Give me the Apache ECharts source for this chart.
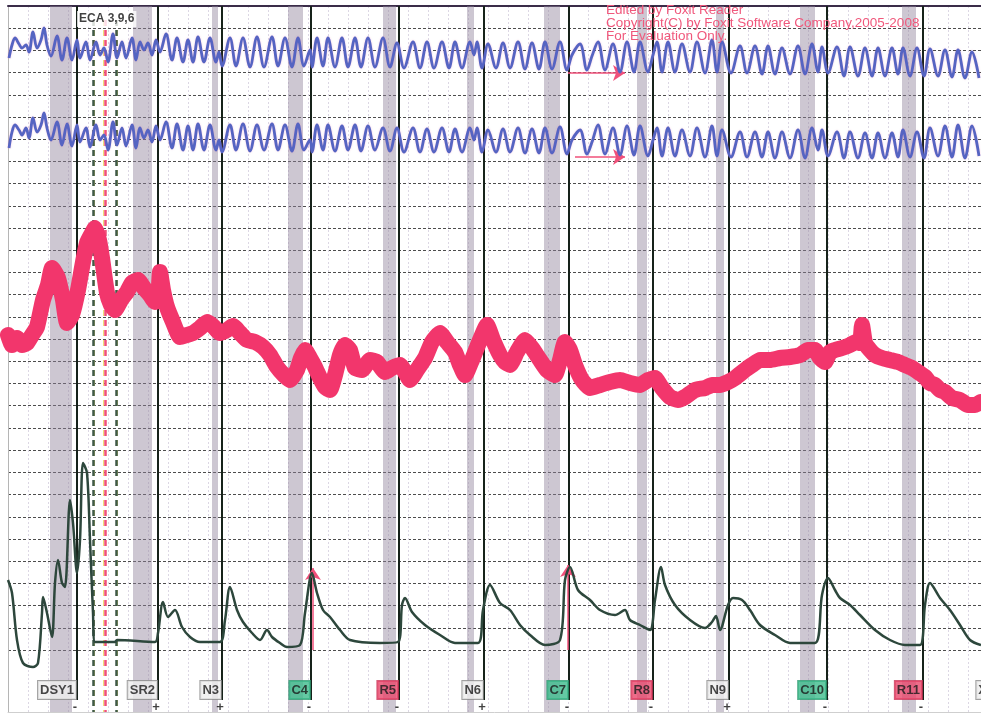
<!DOCTYPE html>
<html><head><meta charset="utf-8">
<script src="https://cdn.jsdelivr.net/npm/echarts@6/dist/echarts.min.js"></script>
<style>html,body{margin:0;padding:0;background:#fff}#c{width:981px;height:715px}</style>
</head><body><div id="c"></div><script>
// ---- data (chart units: time across, trace level down) ----
const breathTime = [9,12,15,19,22,26,29,33,37,41, 44,47,51,57,62,67,72,77,80,86, 90,96,100,104,108,113,117,122,126,132,
 136,140,144,148,152,156,160,166,172,177, 183,188,193,198,204,210,216,219,222,230, 236,243,250,257,264,272,278,285,292,298,
 304,310,312,317,323,328,335,342,348,355, 361,368,375,383,390,397,404,413,420,427, 434,442,449,455,462,470,474,477,482,488,
 496,503,510,518,525,532,539,545,552,560, 567,572,580,587,592,598,605,613,620,627, 634,640,648,653,657,662,668,675,682,690,
 697,705,712,717,722,731,740,747,755,762, 768,775,782,790,798,805,812,818,822,828, 837,844,850,858,865,872,878,885,892,898,
 903,910,917,924,930,938,945,952,958,965, 972,979];
const upperPneumo = [58,45,38,44,48,45,52,32,48,40, 28,45,56,36,60,38,60,40,58,42, 60,42,55,48,62,34,58,42,58,38,
 60,42,50,43,55,40,52,34,60,38, 62,40,62,37,62,38,62,52,66,38, 66,38,67,37,67,37,66,38,67,38,
 66,50,67,38,66,38,67,38,67,38, 67,38,67,38,67,43,68,42,68,42, 68,42,68,42,68,42,55,42,68,44,
 68,43,68,42,69,43,69,42,69,42, 70,55,44,70,56,42,70,44,72,42, 72,42,72,55,42,72,42,72,44,72,
 42,73,40,72,42,73,46,73,46,74, 46,74,48,74,46,74,44,72,47,73, 47,76,47,76,48,76,48,76,48,74,
 48,76,48,76,49,76,50,77,50,78, 52,78];
const lowerPneumo = [148,132,125,130,135,128,138,118,132,125, 113,128,140,122,145,124,146,125,142,128, 147,125,140,135,150,122,145,128,146,125,
 148,128,138,130,142,126,140,122,148,124, 150,126,150,124,150,125,150,140,152,125, 150,124,151,125,150,124,150,125,151,124,
 150,140,152,125,150,125,151,126,150,125, 151,126,150,128,151,128,152,128,152,129, 152,128,152,129,152,128,140,128,152,130,
 152,129,152,128,153,129,153,128,153,127, 154,140,130,154,142,125,154,128,155,126, 155,126,156,140,128,156,128,156,130,156,
 128,157,126,156,130,157,132,157,132,157, 132,158,132,158,130,158,128,150,130,156, 132,158,132,158,133,158,133,158,133,157,
 130,157,132,158,128,156,126,157,125,158, 126,156];

const cardioTime = [8,12,17,22,27,32,37,43,48,52, 58,63,67,72,78,83,87,91,95,99, 102,107,111,115,121,127,132,138,144,150,
 155,158,160,163,167,173,180,187,193,200, 207,213,220,227,233,240,247,255,263,270, 277,284,290,297,301,305,310,315,320,325,
 330,335,340,345,350,355,362,370,377,385, 392,400,405,410,417,425,432,440,447,455, 460,465,472,480,487,493,500,505,510,517,
 525,532,540,547,555,560,565,570,575,582, 590,600,610,620,630,640,648,655,662,670, 678,685,695,705,712,720,728,735,745,752,
 760,770,780,790,800,808,815,820,825,830, 835,842,850,856,860,862,865,870,875,882, 890,898,905,912,918,925,930,935,940,945,
 952,960,968,975,981];
const cardioLevel = [335,345,338,345,343,335,327,300,285,268, 278,300,323,315,290,262,243,235,228,240, 258,293,305,310,300,292,283,280,288,295,
 302,300,272,290,307,322,337,335,333,328, 322,326,333,330,326,333,340,342,347,355, 367,375,380,370,358,350,358,367,378,387,
 390,375,355,345,350,368,370,360,362,372, 368,365,372,380,370,358,342,333,342,352, 365,375,360,340,325,340,355,362,365,352,
 340,348,360,370,375,360,342,350,365,380, 388,385,382,380,383,385,380,378,388,397, 400,397,390,388,385,385,382,378,370,365,
 360,360,358,357,355,350,350,358,362,352, 350,348,345,342,343,325,343,350,355,358, 360,362,365,368,372,377,383,385,390,392,
 398,400,405,405,402];

const edaTime = [8,12,17,23,33,38,42,43,47,52, 55,58,62,65,70,73,77,80,83,87, 90,93,95,115,117,155,158,163,168,175,
 182,190,200,220,225,230,237,243,252,260, 267,272,280,287,300,305,312,317,323,330, 340,350,380,398,402,405,412,425,440,455,
 478,483,490,500,510,520,530,545,560,565, 570,578,590,600,615,625,630,640,650,655, 661,665,675,690,705,712,716,720,728,733,
 742,750,760,775,790,815,822,828,835,840, 850,860,875,890,905,920,925,930,940,950, 960,970,981];
const edaLevel = [580,593,640,663,667,663,613,597,613,637, 583,560,583,587,500,523,573,540,463,473, 540,613,642,642,640,642,633,602,617,610,
 627,637,642,642,620,587,610,622,633,640, 630,637,643,647,645,613,573,593,610,617, 630,640,643,642,605,598,612,625,635,643,
 643,610,585,603,610,625,635,645,640,580, 567,590,600,610,615,610,620,625,630,600, 567,585,605,620,628,622,616,630,605,598,
 600,610,625,635,643,643,595,578,590,598, 605,615,630,640,645,645,605,583,598,610, 625,640,645];

const eventTime   = [77,158,222,311,399,484,569,653,729,827,923,990];
const eventLabels = ['DSY1','SR2','N3','C4','R5','N6','C7','R8','N9','C10','R11','X'];
const eventKinds  = ['n','n','n','c','r','n','c','r','n','c','r','n'];
const eventSigns  = ['-','+','+','-','-','+','-','-','+','-','-',''];
const stimBands   = [[50,72],[133,152],[212,218],[288,303],[383,396],[467,474],[544,560],[637,647],[716,724],[800,815],[902,916]];
const ecaMarks    = [93,116];
const ecaCenter   = 105;
const ecaText     = 'ECA 3,9,6';
const arrows      = [[568,73,625,73],[575,157,625,157],[313,650,313,568],[568,650,568,565]];
const watermark   = ['Edited by Foxit Reader','Copyright(C) by Foxit Software Company,2005-2008','For Evaluation Only.'];

// ---- build ----
const zip = (a,b)=>a.map((v,i)=>[v,b[i]]);
const TOP=6, BOT=712, LBLY=690, SIGNY=707;
const kindBg = {n:'#eeeeee', c:'#3dbb8c', r:'#e8476c'};
const kindBorder = {n:'#8a8a8a', c:'#2d9a70', r:'#c93456'};

const chart = echarts.init(document.getElementById('c'), null, {renderer:'canvas'});
const hidden = {show:false};
const option = {
  animation:false,
  backgroundColor:'#ffffff',
  title:{text:watermark.join('\n'), left:606, top:4, padding:0, z:10,
    textStyle:{color:'#f0587c', fontSize:13.5, fontWeight:'normal', lineHeight:12.8, fontFamily:'Liberation Sans'}},
  grid:[
    {left:0,right:0,top:0,bottom:0},
    {left:8,right:0,top:TOP,bottom:715-BOT},
    {left:8,right:0,top:TOP,height:644}
  ],
  xAxis:[
    {gridIndex:0,type:'value',min:0,max:981,show:false},
    {gridIndex:1,type:'value',min:0,max:973,interval:20,axisLine:{show:true,lineStyle:{color:'#cfcfcf'}},axisTick:hidden,axisLabel:hidden,
      splitLine:{show:true,lineStyle:{color:'#dcd7e4',type:[2,2],width:1}}},
    {gridIndex:2,type:'value',min:0,max:1,position:'top',axisLine:{show:true,lineStyle:{color:'#3a2c48',width:2}},axisTick:hidden,axisLabel:hidden,splitLine:hidden}
  ],
  yAxis:[
    {gridIndex:0,type:'value',min:0,max:715,inverse:true,show:false},
    {gridIndex:1,type:'value',min:0,max:1,axisLine:{show:true,lineStyle:{color:'#b5b5b5'}},axisTick:hidden,axisLabel:hidden,splitLine:hidden},
    {gridIndex:2,type:'value',min:0,max:29,interval:1,inverse:true,axisLine:hidden,axisTick:hidden,axisLabel:hidden,
      splitLine:{show:true,lineStyle:{color:'#4d4d4d',type:[3,2],width:1}}}
  ],
  series:[
    {type:'line',xAxisIndex:1,yAxisIndex:1,data:[],silent:true},
    {type:'line',xAxisIndex:2,yAxisIndex:2,data:[],silent:true},
    // stimulus bands
    {type:'line',data:[[0,0]],symbol:'none',lineStyle:{opacity:0},silent:true,z:1,
      markArea:{silent:true,itemStyle:{color:'rgba(145,130,155,0.45)'},
        data:stimBands.map(b=>[{coord:[b[0],TOP]},{coord:[b[1],BOT]}])}},
    // event lines
    {type:'line',data:[[0,0]],symbol:'none',lineStyle:{opacity:0},silent:true,z:3,
      markLine:{silent:true,symbol:['none','none'],label:hidden,animation:false,
        lineStyle:{color:'#16221a',width:2,type:'solid'},
        data:eventTime.map(x=>[{coord:[x,TOP]},{coord:[x,700]}])}},
    // ECA dashed markers
    {type:'line',data:[[0,0]],symbol:'none',lineStyle:{opacity:0},silent:true,z:3,
      markLine:{silent:true,symbol:['none','none'],label:hidden,
        data:[
          ...ecaMarks.map(x=>[{coord:[x+1.5,20],lineStyle:{color:'#ece27a',width:1,type:[6,4]}},{coord:[x+1.5,BOT]}]),
          ...ecaMarks.map(x=>[{coord:[x,20],lineStyle:{color:'#3f5a48',width:2.5,type:[6,4]}},{coord:[x,BOT]}]),
          [{coord:[ecaCenter-2,20],lineStyle:{color:'#ece27a',width:1,type:[6,4]}},{coord:[ecaCenter-2,BOT]}],
          [{coord:[ecaCenter,20],lineStyle:{color:'#f0507a',width:2.5,type:[6,4]}},{coord:[ecaCenter,BOT]}]
        ]}},
    // pneumo traces
    {name:'upper',type:'line',data:zip(breathTime,upperPneumo),symbol:'none',smooth:0.35,z:5,
      lineStyle:{color:'#5564c2',width:2.8,shadowColor:'rgba(220,90,170,0.35)',shadowBlur:2}},
    {name:'lower',type:'line',data:zip(breathTime,lowerPneumo),symbol:'none',smooth:0.35,z:5,
      lineStyle:{color:'#5564c2',width:2.8,shadowColor:'rgba(220,90,170,0.35)',shadowBlur:2}},
    // cardio
    {name:'cardio',type:'line',data:zip(cardioTime,cardioLevel),symbol:'none',smooth:0.15,z:5,
      lineStyle:{color:'#f2366c',width:16,cap:'round',join:'round'}},
    // EDA
    {name:'eda',type:'line',data:zip(edaTime,edaLevel),symbol:'none',smooth:0.3,z:5,
      lineStyle:{color:'#2d473c',width:2.5}},
    // arrows
    {type:'line',data:[[0,0]],symbol:'none',lineStyle:{opacity:0},silent:true,z:6,
      markLine:{silent:true,symbol:['none','arrow'],symbolSize:[12,12],label:hidden,
        lineStyle:{color:'#f0507a',width:1.5,type:'solid'},
        data:arrows.map(a=>[{coord:[a[0],a[1]]},{coord:[a[2],a[3]]}])}},
    // event labels
    {type:'scatter',symbolSize:0,clip:false,z:8,silent:true,
      data:eventTime.map((x,i)=>({value:[x-1,LBLY],label:{show:true,position:'left',distance:0,
        formatter:eventLabels[i],fontSize:13,fontWeight:'bold',fontFamily:'Liberation Sans',color:'#1a1a1a',
        backgroundColor:kindBg[eventKinds[i]],borderColor:kindBorder[eventKinds[i]],borderWidth:1,padding:[3,2,2,2]}}))},
    // signs
    {type:'scatter',symbolSize:0,clip:false,z:8,silent:true,
      data:eventTime.map((x,i)=>({value:[x-2,SIGNY],label:{show:true,position:'inside',
        formatter:eventSigns[i],fontSize:13,fontWeight:'bold',fontFamily:'Liberation Sans',color:'#111'}}))},
    // ECA label
    {type:'scatter',symbolSize:0,clip:false,z:8,silent:true,
      data:[{value:[77,19],label:{show:true,position:'right',distance:0,formatter:ecaText,fontSize:12,fontWeight:'bold',
        fontFamily:'Liberation Sans',color:'#111',backgroundColor:'#ffffff',padding:[2,2]}}]}
  ]
};
chart.setOption(option);
</script></body></html>
